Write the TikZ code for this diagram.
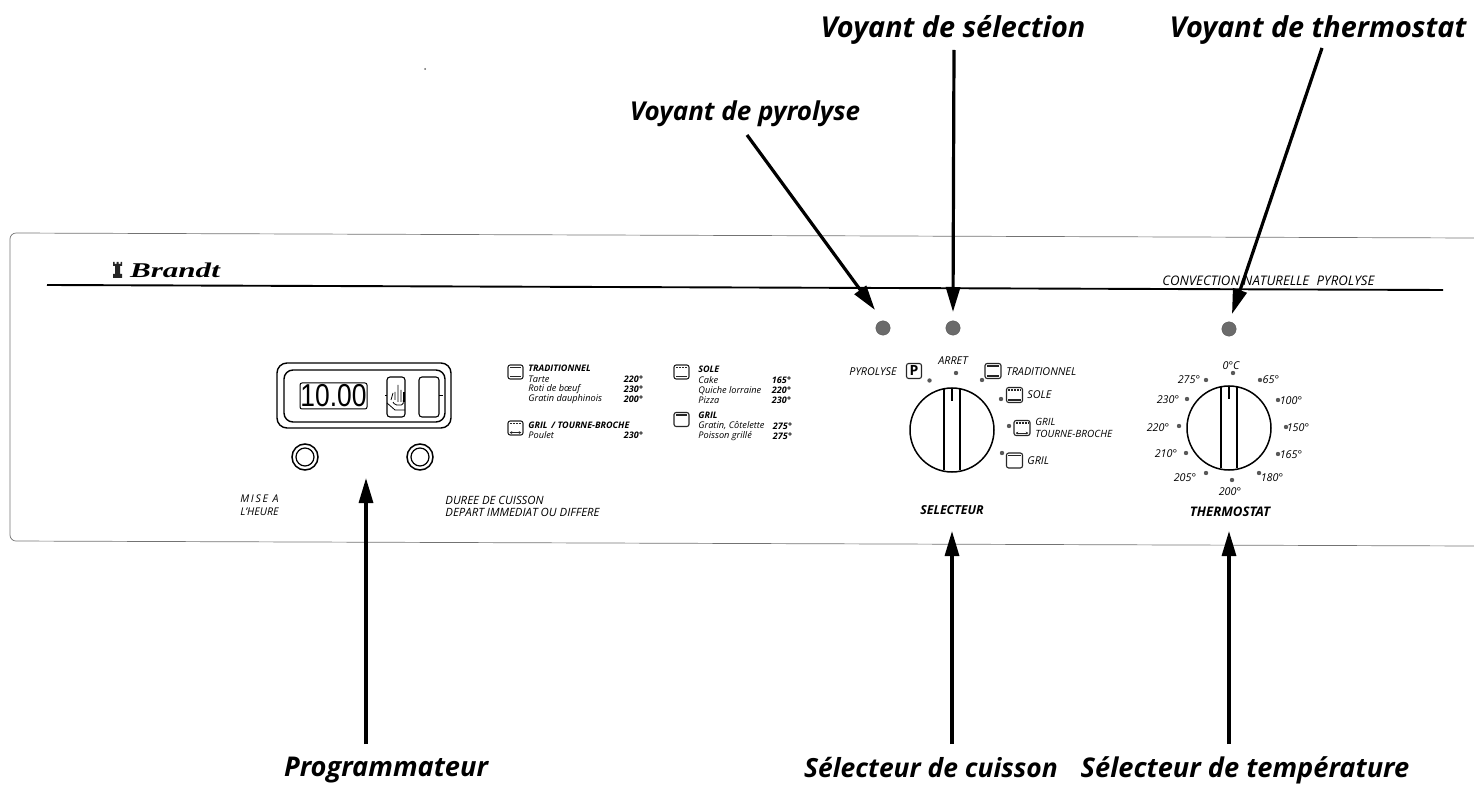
\documentclass[tikz,border=0pt]{standalone}
\usepackage{fontspec}
\setmainfont{Open Sans}
\newfontfamily\brandfont{Liberation Serif}
\newfontfamily\digitfont{Liberation Sans}
\usetikzlibrary{arrows.meta}
\newcommand{\ovenicon}[5]{% name, x, y, width, height
  \node[ovenbox,minimum width=#4*0.5pt,minimum height=#5*0.5pt] (#1) at (#2,#3) {};}
\newcommand{\toplines}[1]{\draw[iconline] ([xshift=1.2pt,yshift=-1.5pt]#1.north west) -- ([xshift=-1.2pt,yshift=-1.5pt]#1.north east);}
\newcommand{\topdash}[1]{\draw[iconline,dash pattern=on 1pt off .5pt] ([xshift=1.2pt,yshift=-1.5pt]#1.north west) -- ([xshift=-1.2pt,yshift=-1.5pt]#1.north east);}
\newcommand{\botlines}[1]{\draw[iconline] ([xshift=1.2pt,yshift=1.5pt]#1.south west) -- ([xshift=-1.2pt,yshift=1.5pt]#1.south east);}
\newcommand{\botarrow}[1]{\draw[iconline,line width=.4pt,{Stealth[length=1.3pt,width=1.4pt]}-{Stealth[length=1.3pt,width=1.4pt]}] ([xshift=1.1pt,yshift=1.5pt]#1.south west) -- ([xshift=-1.1pt,yshift=1.5pt]#1.south east);}
\tikzset{
  x=0.5pt,y=-0.5pt,
  callout/.style={font=\fontsize{13.6}{15}\selectfont\bfseries\itshape,inner sep=0pt,text=black,anchor=base},
  arrowline/.style={line width=1.6pt,-{Triangle[length=12.5pt,width=7pt]}},
  small/.style={font=\fontsize{4.6}{5.4}\selectfont\itshape,inner sep=0pt,text=black,anchor=west},
  smallb/.style={small,font=\fontsize{4.5}{5.4}\selectfont\bfseries\itshape},
  dial/.style={font=\fontsize{5.4}{6.2}\selectfont\itshape,inner sep=0pt,text=black},
  dialb/.style={dial,font=\fontsize{6.2}{7}\selectfont\bfseries\itshape},
  ovenbox/.style={draw=black!85,line width=.55pt,rounded corners=1.1pt,inner sep=0pt,fill=white},
  iconline/.style={draw=black!85,line width=.7pt},
  led/.style={circle,fill=black!58,draw=black!65,line width=.2pt,minimum size=7.2pt,inner sep=0pt},
  spot/.style={circle,fill=black!65,minimum size=2.2pt,inner sep=0pt},
  knob/.style={circle,draw=black,line width=.75pt,minimum size=42pt,inner sep=0pt},
  knobline/.style={draw=black,line width=.75pt},
  frame/.style={draw=black,line width=.7pt},
}
\begin{document}
\begin{tikzpicture}
\useasboundingbox (0,0) rectangle (1474,786);
% panel
\draw[draw=black!55,line width=.35pt,rounded corners=3pt] (1474,238) -- (10,233) -- (10,541) -- (1474,546);
\draw[draw=black,line width=.95pt] (47,285) -- (1443,290);
\fill[black!60] (425,69) circle (.5pt);
% brand
\node[inner sep=0pt,xscale=1.48,font=\fontsize{10.5}{12}\selectfont\brandfont\bfseries\itshape] (brand) at (175,270) {Brandt};
\fill[black!85] (113,262) -- (114.5,262) -- (114.5,264) -- (116.5,264) -- (116.5,262) -- (118.5,262) -- (118.5,264) -- (120.5,264) -- (120.5,262) -- (122,262) -- (122,266) -- (120,266) -- (120,274) -- (122,274) -- (122,278) -- (113,278) -- (113,274) -- (115,274) -- (115,266) -- (113,266) -- cycle;
\node[dial,font=\fontsize{6.6}{7.5}\selectfont\itshape,anchor=west] (conv) at (1162,281) {CONVECTION NATURELLE\hspace{2pt} PYROLYSE};
% programmer
\draw[frame,rounded corners=5pt] (277,363) rectangle (451,428);
\draw[frame,rounded corners=4.5pt] (284,370) rectangle (445,422);
\node[frame,line width=.5pt,rounded corners=1pt,minimum width=33.5pt,minimum height=13pt,inner sep=0pt,font=\fontsize{13.2}{14}\selectfont\digitfont] (display) at (333.5,396) {\scalebox{1}[1.2]{10.00}};
\draw[frame,line width=.55pt,rounded corners=1.5pt] (387,377) rectangle (405,417);
\draw[frame,line width=.55pt,rounded corners=1.5pt] (419,377) rectangle (439,417);
\draw[black,line width=.4pt] (385,395) -- (387,395) (439,395) -- (443,395);
\draw[black,line width=.4pt,rounded corners=.8pt] (391,400) -- (393,393) (393,402) -- (395,405) -- (403,405) -- (404,393) (395,400) -- (395,392) (398,402) -- (398,385) (401,402) -- (401,390);
\draw[black,line width=.9pt] (404,392) -- (404,402);
\draw[black,line width=.4pt] (387,403) -- (395,410) -- (405,410);
\node[circle,draw=black,line width=.75pt,minimum size=13pt,inner sep=0pt] (knobleft) at (305,457) {};
\node[circle,draw=black,line width=.6pt,minimum size=9pt,inner sep=0pt] (knobleftin) at (305,457) {};
\node[circle,draw=black,line width=.75pt,minimum size=13pt,inner sep=0pt] (knobright) at (420,457) {};
\node[circle,draw=black,line width=.6pt,minimum size=9pt,inner sep=0pt] (knobrightin) at (420,457) {};
\node[small,anchor=north east,align=right,font=\fontsize{5.3}{6.3}\selectfont\itshape] (mise) at (279,494.5) {M\,I\,S\,E\, A\\L'HEURE};
\node[small,anchor=north west,align=left,font=\fontsize{5.7}{6.4}\selectfont\itshape] (duree) at (445,495.5) {DUREE DE CUISSON\\DEPART IMMEDIAT OU DIFFERE};
% table
\ovenicon{ta}{515.5}{372}{15}{14}\toplines{ta}\botlines{ta}
\ovenicon{tb}{515.5}{428}{15}{14}\topdash{tb}\botarrow{tb}
\ovenicon{tc}{681.5}{372}{15}{14}\topdash{tc}\botlines{tc}
\ovenicon{td}{681.5}{419.5}{15}{14}\toplines{td}
\node[smallb] (t1) at (528,368) {TRADITIONNEL};
\node[small] (t2) at (528,379) {Tarte};
\node[small] (t3) at (528,389) {Roti de bœuf};
\node[small] (t4) at (528,399) {Gratin dauphinois};
\node[smallb,anchor=east] (t2v) at (643,379) {220°};
\node[smallb,anchor=east] (t3v) at (643,389) {230°};
\node[smallb,anchor=east] (t4v) at (643,399) {200°};
\node[smallb] (t5) at (528,425) {GRIL\, / TOURNE-BROCHE};
\node[small] (t6) at (528,435) {Poulet};
\node[smallb,anchor=east] (t6v) at (643,435) {230°};
\node[smallb] (u1) at (698,369) {SOLE};
\node[small] (u2) at (698,380) {Cake};
\node[small] (u3) at (698,390.5) {Quiche lorraine};
\node[small] (u4) at (698,400) {Pizza};
\node[smallb,anchor=east] (u2v) at (791,380) {165°};
\node[smallb,anchor=east] (u3v) at (791,390.5) {220°};
\node[smallb,anchor=east] (u4v) at (791,400) {230°};
\node[smallb] (u5) at (698,415) {GRIL};
\node[small] (u6) at (698,426) {Gratin, Côtelette};
\node[small] (u7) at (698,436) {Poisson grillé};
\node[smallb,anchor=east] (u6v) at (792,426) {275°};
\node[smallb,anchor=east] (u7v) at (792,436) {275°};
% leds
\node[led] (ledp) at (883,328) {};
\node[led] (leds) at (953,328) {};
\node[led] (ledt) at (1229,329) {};
% selector
\node[knob] (sel) at (952,430) {};
\draw[knobline] (944,389.5) -- (944,470.5) (960,389.5) -- (960,470.5);
\draw[knobline] (952,389) -- (952,401);
\node[spot] (s1) at (929.5,380.5) {};
\node[spot] (s2) at (956,373) {};
\node[spot] (s3) at (982,380) {};
\node[spot] (s4) at (1001,399) {};
\node[spot] (s5) at (1009,426) {};
\node[spot] (s6) at (1002,453) {};
\node[dial,anchor=west] (lpy) at (849,372) {PYROLYSE};
\node[ovenbox,minimum width=7.5pt,minimum height=7.5pt,font=\fontsize{7}{7}\selectfont\bfseries] (pbox) at (914,371) {P};
\node[dial] (lar) at (953,361) {ARRET};
\ovenicon{i1}{993}{371}{16}{15}\toplines{i1}\botlines{i1}
\node[dial,anchor=west] (ltr) at (1006,372) {TRADITIONNEL};
\ovenicon{i2}{1014.5}{395}{16}{15}\topdash{i2}\botlines{i2}
\node[dial,anchor=west] (lso) at (1027,395) {SOLE};
\ovenicon{i3}{1022}{428}{16}{15}\topdash{i3}\botarrow{i3}
\node[dial,font=\fontsize{5}{6.1}\selectfont\itshape,anchor=north west,align=left] (lgt) at (1035,417.5) {GRIL\\TOURNE-BROCHE};
\ovenicon{i4}{1014.5}{460.5}{16}{15}\toplines{i4}
\node[dial,anchor=west] (lgr) at (1027,461) {GRIL};
\node[dialb] (lsel) at (952,510) {SELECTEUR};
% thermostat
\node[knob] (the) at (1229,428) {};
\draw[knobline] (1221,387.5) -- (1221,468.5) (1237,387.5) -- (1237,468.5);
\draw[knobline] (1229,387) -- (1229,399);
\node[spot] (d0) at (1233,373) {};
\node[spot] (d1) at (1206,380) {};
\node[spot] (d2) at (1187,399) {};
\node[spot] (d3) at (1179,426) {};
\node[spot] (d4) at (1186,453) {};
\node[spot] (d5) at (1206,473) {};
\node[spot] (d6) at (1232,480) {};
\node[spot] (d7) at (1259,473) {};
\node[spot] (d8) at (1278,454) {};
\node[spot] (d9) at (1286,427) {};
\node[spot] (d10) at (1278,400) {};
\node[spot] (d11) at (1260,380) {};
\node[dial] (l0) at (1231,366) {0°C};
\node[dial] (l1) at (1189,380) {275°};
\node[dial] (l2) at (1168,400) {230°};
\node[dial] (l3) at (1158,428) {220°};
\node[dial] (l4) at (1166,454) {210°};
\node[dial] (l5) at (1185,478) {205°};
\node[dial] (l6) at (1230,492) {200°};
\node[dial] (l7) at (1272,478) {180°};
\node[dial] (l8) at (1291,455) {165°};
\node[dial] (l9) at (1298,428) {150°};
\node[dial] (l10) at (1291,401) {100°};
\node[dial] (l11) at (1271,380) {65°};
\node[dialb,font=\fontsize{6.6}{7.5}\selectfont\bfseries\itshape] (lth) at (1230,512) {THERMOSTAT};
% callouts
\node[callout,font=\fontsize{13}{15}\selectfont\bfseries\itshape] (cpy) at (745,121) {Voyant de pyrolyse};
\node[callout,font=\fontsize{14.4}{15}\selectfont\bfseries\itshape] (cse) at (953,38) {Voyant de sélection};
\node[callout,font=\fontsize{14.4}{15}\selectfont\bfseries\itshape] (cth) at (1318,38) {Voyant de thermostat};
\node[callout] (cpr) at (386,776) {Programmateur};
\node[callout,font=\fontsize{13.2}{15}\selectfont\bfseries\itshape] (ccu) at (931,777) {Sélecteur de cuisson};
\node[callout] (cte) at (1245,777) {Sélecteur de température};
\coordinate (apy1) at (747,135);
\coordinate (apy2) at (875,310);
\coordinate (ase1) at (954,50);
\coordinate (ase2) at (953,312);
\coordinate (ath1) at (1322,48);
\coordinate (ath2) at (1232,314);
\coordinate (apr1) at (366,744);
\coordinate (apr2) at (366,478);
\coordinate (acu1) at (952,744);
\coordinate (acu2) at (952,531);
\coordinate (ate1) at (1229,744);
\coordinate (ate2) at (1229,531);
\draw[arrowline] (apy1) -- (apy2);
\draw[arrowline] (ase1) -- (ase2);
\draw[arrowline] (ath1) -- (ath2);
\draw[arrowline] (apr1) -- (apr2);
\draw[arrowline] (acu1) -- (acu2);
\draw[arrowline] (ate1) -- (ate2);
\end{tikzpicture}
\end{document}
